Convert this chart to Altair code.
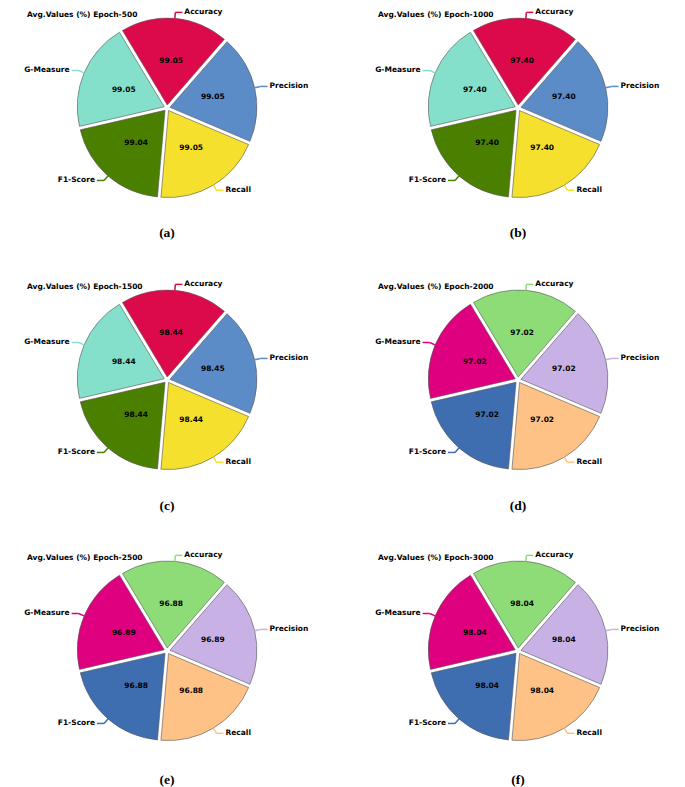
import math
import altair as alt
import pandas as pd

metrics = ["Accuracy", "Precision", "Recall", "F1-Score", "G-Measure"]
epochs = [500, 1000, 1500, 2000, 2500, 3000]
letters = ["(a)", "(b)", "(c)", "(d)", "(e)", "(f)"]
vals_500 = [99.05, 99.05, 99.05, 99.04, 99.05]
vals_1000 = [97.40, 97.40, 97.40, 97.40, 97.40]
vals_1500 = [98.44, 98.45, 98.44, 98.44, 98.44]
vals_2000 = [97.02, 97.02, 97.02, 97.02, 97.02]
vals_2500 = [96.88, 96.89, 96.88, 96.88, 96.89]
vals_3000 = [98.04, 98.04, 98.04, 98.04, 98.04]
all_vals = [vals_500, vals_1000, vals_1500, vals_2000, vals_2500, vals_3000]

palette_1 = ["#DC0A4B", "#5B8CC7", "#F5E02E", "#4A7F00", "#85E0CB"]
palette_2 = ["#8EDC78", "#C8B2E5", "#FEC287", "#3E6EB0", "#DE007E"]
palettes = [palette_1, palette_1, palette_1, palette_2, palette_2, palette_2]

START = -31 * math.pi / 180
R = 87
D = 3
RV = 47
RL = 96
HL = 7

col_w = [351, 318]
row_h = [271, 270, 230]
cap_y = [224, 225, 228]
CX, CY = 159, 99

FONT = "DejaVu Sans"


def panel(i, w, h, capy):
    df = pd.DataFrame({"metric": metrics, "value": all_vals[i], "order": list(range(5))})
    xs = alt.Scale(domain=[-CX, w - CX], range=[0, w])
    ys = alt.Scale(domain=[-(h - CY), CY], range=[h, 0])
    cfield = f"metric_{i}"
    df[cfield] = df["metric"]
    color = alt.Color(f"{cfield}:N", scale=alt.Scale(domain=metrics, range=palettes[i]), legend=None)
    base = alt.Chart(df).transform_joinaggregate(
        total="sum(value)"
    ).transform_window(
        cum="sum(value)", sort=[alt.SortField("order")], frame=[None, 0]
    ).transform_calculate(
        t1=f"{START} + 2*PI*datum.cum/datum.total",
    ).transform_calculate(
        t0=f"datum.t1 - 2*PI*datum.value/datum.total",
    ).transform_calculate(
        mid="(datum.t0 + datum.t1)/2",
    ).transform_calculate(
        s="sin(datum.mid)", c="cos(datum.mid)",
    ).transform_calculate(
        side="datum.s >= 0 ? 1 : -1",
        cx=f"{D}*datum.s", cy=f"{D}*datum.c",
        vx=f"{RV}*datum.s", vy=f"{RV}*datum.c",
        ex=f"{R + D}*datum.s", ey=f"{R + D}*datum.c",
        px=f"{RL}*datum.s", py=f"{RL}*datum.c",
    ).transform_calculate(
        qx=f"datum.px + datum.side*{HL}",
        lx=f"datum.px + datum.side*{HL + 2}",
    )

    arcs = base.mark_arc(radius=R, stroke="#555555", strokeWidth=0.6).encode(
        x=alt.X("cx:Q", scale=xs, axis=None),
        y=alt.Y("cy:Q", scale=ys, axis=None),
        theta=alt.Theta("t0:Q", scale=None),
        theta2="t1:Q",
        color=color,
    )
    values = base.mark_text(font=FONT, fontSize=7.5, fontWeight="bold", color="black").encode(
        x=alt.X("vx:Q", scale=xs, axis=None),
        y=alt.Y("vy:Q", scale=ys, axis=None),
        text=alt.Text("value:Q", format=".2f"),
    )
    lead1 = base.mark_rule(strokeWidth=1.5).encode(
        x=alt.X("ex:Q", scale=xs, axis=None),
        y=alt.Y("ey:Q", scale=ys, axis=None),
        x2="px:Q", y2="py:Q",
        color=color,
    )
    lead2 = base.mark_rule(strokeWidth=1.5).encode(
        x=alt.X("px:Q", scale=xs, axis=None),
        y=alt.Y("py:Q", scale=ys, axis=None),
        x2="qx:Q", y2="py:Q",
        color=color,
    )
    lab_r = base.transform_filter("datum.side > 0").mark_text(
        font=FONT, fontSize=7.5, fontWeight="bold", color="black", align="left", baseline="middle"
    ).encode(
        x=alt.X("lx:Q", scale=xs, axis=None),
        y=alt.Y("py:Q", scale=ys, axis=None),
        text="metric:N",
    )
    lab_l = base.transform_filter("datum.side < 0").mark_text(
        font=FONT, fontSize=7.5, fontWeight="bold", color="black", align="right", baseline="middle"
    ).encode(
        x=alt.X("lx:Q", scale=xs, axis=None),
        y=alt.Y("py:Q", scale=ys, axis=None),
        text="metric:N",
    )
    title = alt.Chart(pd.DataFrame({"t": [f"Avg.Values (%) Epoch-{epochs[i]}"]})).mark_text(
        font=FONT, fontSize=7.5, fontWeight="bold", color="black", align="left", baseline="middle"
    ).encode(x=alt.value(CX - 140), y=alt.value(CY - 93), text="t:N")
    caption = alt.Chart(pd.DataFrame({"t": [letters[i]]})).mark_text(
        font="Liberation Serif", fontSize=13.5, fontWeight="bold", color="black", align="center", baseline="middle"
    ).encode(x=alt.value(CX), y=alt.value(capy), text="t:N")

    return alt.layer(arcs, lead1, lead2, values, lab_r, lab_l, title, caption).properties(
        width=w, height=h
    )


rows = []
for r in range(3):
    rows.append(
        alt.hconcat(
            *[panel(2 * r + c, col_w[c], row_h[r], cap_y[r]) for c in range(2)],
            spacing=0,
        ).resolve_scale(color="independent")
    )

chart = alt.vconcat(*rows, spacing=0).resolve_scale(color="independent").properties(
    padding=0
).configure_view(stroke=None)

chart.save("out.html", embed_options={"renderer": "svg", "actions": False})
